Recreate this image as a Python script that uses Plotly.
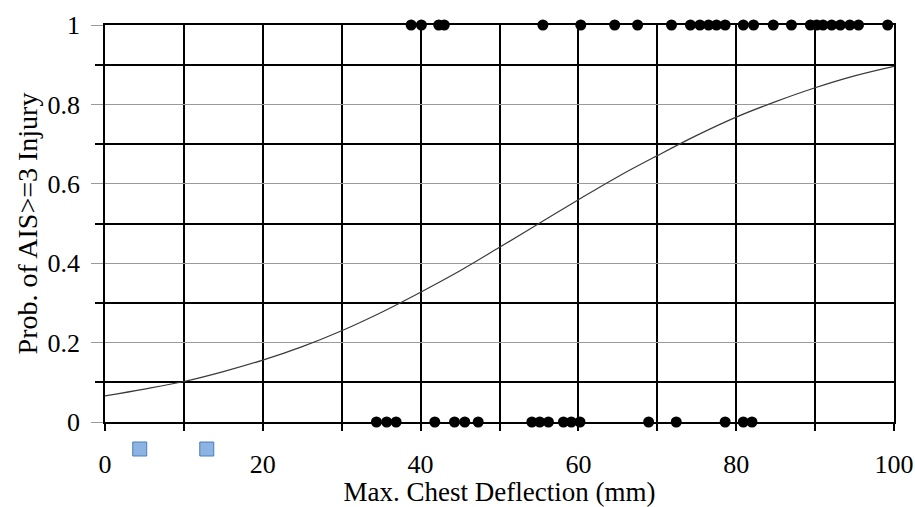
import plotly.graph_objects as go

# ---- data ----
injury_x = [38.8, 40.1, 42.3, 43.0, 55.5, 60.3, 64.6, 67.5, 71.8, 74.2, 75.4, 76.5,
            77.5, 78.6, 80.9, 82.2, 84.7, 87.0, 89.4, 90.2, 91.0, 92.1, 93.2, 94.4,
            95.5, 99.2]
injury_y = [1] * len(injury_x)

noinjury_x = [34.4, 35.7, 36.9, 41.8, 44.3, 45.6, 47.3, 54.1, 55.1, 56.2, 58.1,
              59.1, 60.2, 68.9, 72.4, 78.6, 80.9, 82.0]
noinjury_y = [0] * len(noinjury_x)

curve_x = [0, 5, 10, 15, 20, 25, 30, 35, 40, 45, 50, 55, 60, 65, 70, 75, 80, 85,
           90, 95, 100]
curve_y = [0.066, 0.083, 0.102, 0.127, 0.156, 0.19, 0.23, 0.276, 0.327, 0.381,
           0.44, 0.50, 0.56, 0.618, 0.671, 0.722, 0.768, 0.807, 0.842, 0.872, 0.896]

square_x = [4.4, 12.9]
square_y = [-0.068, -0.068]

x_ticks = list(range(0, 101, 10))
x_labels = [str(v) if v % 20 == 0 else "" for v in x_ticks]
y_ticks = [0, 0.2, 0.4, 0.6, 0.8, 1]
y_labels = ["0", "0.2", "0.4", "0.6", "0.8", "1"]
y_minor = [0.1, 0.3, 0.5, 0.7, 0.9]

FONT = "Liberation Serif, Times New Roman, serif"
TICK_SIZE = 26
TITLE_SIZE = 27

# layout geometry (pixels)
W, H = 915, 507
M_L, M_R, M_T, M_B = 105, 21, 25, 45
PLOT_H = H - M_T - M_B
AXIS_Y = 422                      # pixel row of y = 0
d = (H - M_B - AXIS_Y) / PLOT_H   # fraction of plot height below main axis
main_unit_px = AXIS_Y - M_T       # pixels per probability unit
below_range = [-(H - M_B - AXIS_Y) / main_unit_px, 0]

fig = go.Figure()

fig.add_trace(go.Scatter(x=curve_x, y=curve_y, mode="lines",
                         line=dict(color="#3a3a3a", width=1.2, shape="spline"),
                         hoverinfo="skip", showlegend=False))
fig.add_trace(go.Scatter(x=injury_x, y=injury_y, mode="markers",
                         marker=dict(color="black", size=11, symbol="circle"),
                         cliponaxis=False, showlegend=False))
fig.add_trace(go.Scatter(x=noinjury_x, y=noinjury_y, mode="markers",
                         marker=dict(color="black", size=11, symbol="circle"),
                         cliponaxis=False, showlegend=False))
fig.add_trace(go.Scatter(x=square_x, y=square_y, mode="markers",
                         xaxis="x2", yaxis="y2",
                         marker=dict(color="#8DB3E2", size=14, symbol="square",
                                     line=dict(color="#4A7EBB", width=1)),
                         cliponaxis=False, showlegend=False))

fig.update_layout(
    width=W, height=H,
    margin=dict(l=M_L, r=M_R, t=M_T, b=M_B, autoexpand=False),
    paper_bgcolor="white", plot_bgcolor="white",
    font=dict(family=FONT, size=TICK_SIZE, color="black"),
    xaxis=dict(
        range=[0, 100], tickvals=x_ticks, ticktext=x_labels,
        showgrid=True, gridcolor="black", gridwidth=1.6,
        showline=True, linecolor="black", linewidth=1.6, mirror=True,
        ticks="outside", ticklen=7, tickcolor="black", tickwidth=1.6,
        ticklabelstandoff=11, zeroline=False, anchor="y", automargin=False,
        title=dict(text="Max. Chest Deflection (mm)", standoff=17,
                   font=dict(family=FONT, size=TITLE_SIZE)),
        tickfont=dict(family=FONT, size=TICK_SIZE),
    ),
    yaxis=dict(
        domain=[d, 1], anchor="x", automargin=False,
        range=[0, 1], tickvals=y_ticks, ticktext=y_labels,
        showgrid=True, gridcolor="#9a9a9a", gridwidth=1.2,
        showline=True, linecolor="black", linewidth=1.6, mirror=True,
        ticks="outside", ticklen=12, tickcolor="#9a9a9a", tickwidth=1.2,
        ticklabelstandoff=6, zeroline=False,
        minor=dict(tickvals=y_minor, showgrid=True,
                   gridcolor="black", gridwidth=1.6, ticks="outside",
                   ticklen=8, tickcolor="black", tickwidth=1.6),
        title=dict(text="Prob. of AIS>=3 Injury", standoff=2,
                   font=dict(family=FONT, size=28)),
        tickfont=dict(family=FONT, size=TICK_SIZE),
    ),
    xaxis2=dict(domain=[0, 1], anchor="y2", range=[0, 100], visible=False,
                automargin=False),
    yaxis2=dict(domain=[0, d], anchor="x2", range=below_range, visible=False,
                automargin=False),
)

fig.write_html("out.html")
